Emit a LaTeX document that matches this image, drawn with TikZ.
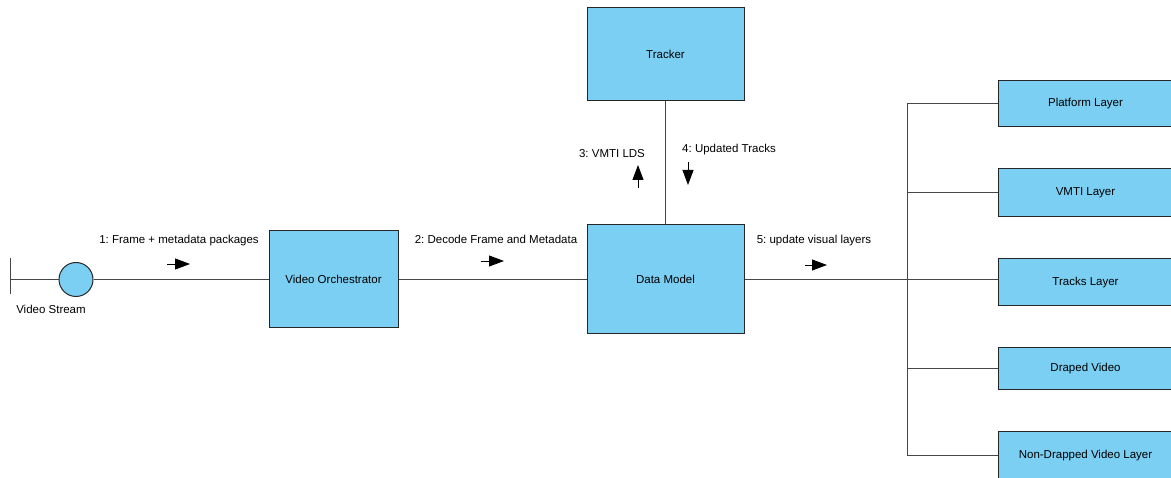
\documentclass[tikz,border=0pt]{standalone}
\usepackage{fontspec}
\setmainfont{Liberation Sans}
\frenchspacing
\usetikzlibrary{positioning}
\usetikzlibrary{arrows.meta}

\definecolor{boxblue}{RGB}{122, 207, 243}
\definecolor{edgegrey}{RGB}{70, 70, 70}

\tikzset{
	block/.style = {draw = black!85, fill = boxblue, line width = 1pt, font = \fontsize{11.5}{13}\selectfont},
	layer/.style = {block, minimum width = 174, minimum height = 46, anchor = west},
	link/.style = {draw = edgegrey, line width = 1pt},
	msg/.style = {black, line width = 0.9pt, -{Triangle[length = 15pt, width = 11pt]}},
	lbl/.style = {font = \fontsize{11.5}{13}\selectfont}
}

\begin{document}
\begin{tikzpicture}[x = 1pt, y = -1pt]
							\clip (0, 0) rectangle (1171, 478);
							\fill [white] (0, 0) rectangle (1171, 478);
							% actor
							\node [draw = black!85, fill = boxblue, circle, line width = 1pt, minimum size = 34, inner sep = 0pt] (stream) at (76, 279.5) {};
							\node [lbl] (streamlbl) at (51, 309) {Video Stream};
							\coordinate (bartop) at (10, 258);
							\coordinate (barbot) at (10, 294);
							\coordinate (barmid) at (10, 279.5);
							\draw [link] (bartop) -- (barbot);
							\draw [link] (barmid) -- (stream);
							% main blocks
							\node [block, minimum width = 129, minimum height = 97] (orch) at (333.5, 279.5) {Video Orchestrator};
							\node [block, minimum width = 157, minimum height = 109] (model) at (665.5, 279.5) {Data Model};
							\node [block, minimum width = 157, minimum height = 93] (tracker) at (665.5, 54.5) {Tracker};
							% layers
							\node [layer] (platform) at (998, 104) {Platform Layer};
							\node [layer, minimum height = 48] (vmti) at (998, 193) {VMTI Layer};
							\node [layer, minimum height = 47] (tracks) at (998, 282.5) {Tracks Layer};
							\node [layer, minimum height = 42] (draped) at (998, 369) {Draped Video};
							\node [layer, minimum height = 47] (nondraped) at (998, 455.5) {Non-Drapped Video Layer};
							% connectors
							\draw [link] (stream) -- (orch);
							\draw [link] (orch) -- (model);
							\draw [link] (tracker) -- (model);
							\coordinate (bus) at (907, 279.5);
							\draw [link] (model.east) -- (tracks.west |- bus);
							\draw [link] (bus |- platform) -- (bus |- nondraped.west);
							\foreach \n in {platform, vmti, draped, nondraped}
								\draw [link] (bus |- \n.west) -- (\n.west);
							% messages
							\node [lbl] (msg1) at (179, 241) {1: Frame + metadata packages};
							\draw [msg] (167, 264) -- (190, 264);
							\node [lbl] (msg2) at (496, 239) {2: Decode Frame and Metadata};
							\draw [msg] (481, 261) -- (504, 261);
							\node [lbl] (msg3) at (612, 154) {3: VMTI LDS};
							\draw [msg] (638, 188) -- (638, 165);
							\node [lbl] (msg4) at (729, 150) {4: Updated Tracks};
							\draw [msg] (688, 162) -- (688, 185);
							\node [lbl] (msg5) at (814, 241) {5: update visual layers};
							\draw [msg] (805, 265) -- (827, 265);
						\end{tikzpicture}
\end{document}
